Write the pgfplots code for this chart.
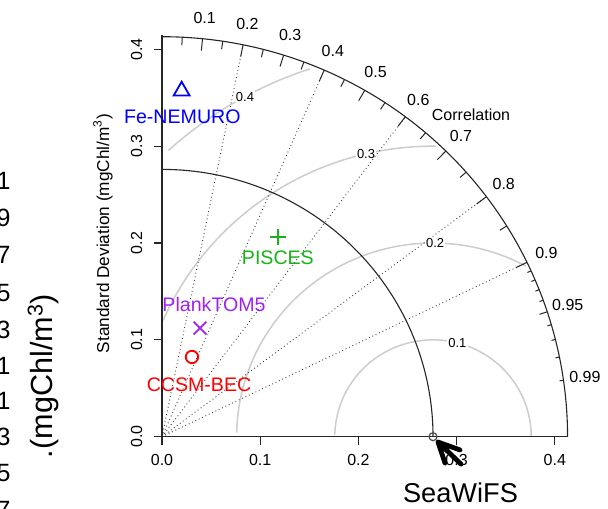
\documentclass[border=0pt]{standalone}
\usepackage{fontspec}
\setmainfont{Liberation Sans}
\usepackage{pgfplots}
\pgfplotsset{compat=1.18}

\definecolor{piscesgreen}{RGB}{25,178,25}
\definecolor{tompurple}{RGB}{160,32,240}
\definecolor{rmsgray}{RGB}{205,205,205}

\newcommand{\fs}[1]{\fontsize{#1}{#1}\selectfont}

\begin{document}
\begin{tikzpicture}
\begin{axis}[
  width=304pt, height=254.5pt, scale only axis,
  xmin=-0.16497, xmax=0.45418,
  ymin=-0.07465, ymax=0.45090,
  axis lines=none, clip=false,
]

%% centred RMS difference contours round the reference (sd 0.276)
\addplot[rmsgray, line width=0.75pt, domain=0:178.76, samples=90] ({0.276+0.1*cos(x)},{0.1*sin(x)});
\addplot[rmsgray, line width=0.75pt, domain=61.88:178.76, samples=70] ({0.276+0.2*cos(x)},{0.2*sin(x)});
\addplot[rmsgray, line width=0.75pt, domain=89.38:156.42, samples=50] ({0.276+0.3*cos(x)},{0.3*sin(x)});
\addplot[rmsgray, line width=0.75pt, domain=108.29:132.35, samples=25] ({0.276+0.4*cos(x)},{0.4*sin(x)});

\node[fill=white, inner sep=0.6pt, font=\fs{6.5}] at (axis cs:0.3008,0.0969) {0.1};
\node[fill=white, inner sep=0.6pt, font=\fs{6.5}] at (axis cs:0.2782,0.2000) {0.2};
\node[fill=white, inner sep=0.6pt, font=\fs{6.5}] at (axis cs:0.2078,0.2921) {0.3};
\node[fill=white, inner sep=0.6pt, font=\fs{6.5}] at (axis cs:0.0845,0.3512) {0.4};

%% correlation rays
\pgfplotsinvokeforeach{0.2,0.4,0.6,0.8,0.9}{
  \draw[black!75, line width=0.45pt, dash pattern=on 0.45pt off 1.4pt]
    (axis cs:0,0) -- (axis cs:{0.413*#1},{0.413*sqrt(1-#1^2)});
}

%% outer arc and reference arc
\addplot[black!85, line width=0.55pt, domain=0:90, samples=91] ({0.413*cos(x)},{0.413*sin(x)});
\addplot[black!85, line width=0.55pt, domain=0:90, samples=91] ({0.276*cos(x)},{0.276*sin(x)});

%% correlation ticks
\pgfplotsinvokeforeach{0.1,0.2,0.3,0.4,0.5,0.6,0.7,0.8,0.9}{
  \draw[black!85, line width=0.5pt] (axis cs:{0.413*#1},{0.413*sqrt(1-#1^2)}) -- (axis cs:{0.4006*#1},{0.4006*sqrt(1-#1^2)});
}
\pgfplotsinvokeforeach{0.05,0.15,0.25,0.35,0.45,0.55,0.65,0.75,0.85,0.95}{
  \draw[black!85, line width=0.5pt] (axis cs:{0.413*#1},{0.413*sqrt(1-#1^2)}) -- (axis cs:{0.4047*#1},{0.4047*sqrt(1-#1^2)});
}
\pgfplotsinvokeforeach{0.91,0.92,0.93,0.94,0.96,0.97,0.98,0.99}{
  \draw[black!85, line width=0.5pt] (axis cs:{0.413*#1},{0.413*sqrt(1-#1^2)}) -- (axis cs:{0.4089*#1},{0.4089*sqrt(1-#1^2)});
}
\pgfplotsinvokeforeach{0.1,0.2,0.3,0.4,0.5,0.6,0.7,0.8,0.9,0.95,0.99}{
  \node[font=\fs{8}] at (axis cs:{0.435*#1},{0.435*sqrt(1-#1^2)}) {#1};
}
\node[font=\fs{8}] at (axis cs:0.3147,0.332) {Correlation};

%% sd axes
\draw[black!85, line width=0.55pt] (axis cs:0,0) -- (axis cs:0.413,0);
\draw[black!85, line width=0.55pt] (axis cs:0,0) -- (axis cs:0,0.4148);
\pgfplotsinvokeforeach{0.0,0.1,0.2,0.3,0.4}{
  \draw[black!85, line width=0.55pt] (axis cs:#1,0) -- (axis cs:#1,-0.0083);
  \node[font=\fs{8}] at (axis cs:#1,-0.0245) {#1};
  \draw[black!85, line width=0.55pt] (axis cs:0,#1) -- (axis cs:-0.0082,#1);
  \node[font=\fs{8}, rotate=90] at (axis cs:-0.0258,#1) {#1};
}
\node[font=\fs{8.6}, rotate=90] at (axis cs:-0.0601,0.2098)
  {Standard Deviation (mgChl/m\textsuperscript{3})};

%% reference (SeaWiFS)
\addplot[only marks, black!70, mark=o, mark size=2pt, line width=0.6pt] coordinates {(0.276,0)};
\draw[line width=2.4pt, line cap=round, line join=round]
  (axis cs:0.3045,-0.0283) -- (axis cs:0.2811,-0.0055)
  (axis cs:0.3035,-0.0137) -- (axis cs:0.2811,-0.0055) -- (axis cs:0.2882,-0.0272);
\node[font=\fs{13.6}] at (axis cs:0.304,-0.0581) {SeaWiFS};

%% models
\addplot[only marks, blue, mark=triangle, mark size=4.6pt, line width=0.9pt] coordinates {(0.020,0.357)};
\node[blue, font=\fs{9.8}] at (axis cs:0.0207,0.3304) {Fe-NEMURO};

\addplot[only marks, piscesgreen, mark=+, mark size=4pt, line width=0.9pt] coordinates {(0.1181,0.2062)};
\node[piscesgreen, font=\fs{9.8}] at (axis cs:0.118,0.1844) {PISCES};

\addplot[only marks, tompurple, mark=x, mark size=4.5pt, line width=0.9pt] coordinates {(0.0387,0.1122)};
\node[tompurple, font=\fs{9.8}] at (axis cs:0.053,0.136) {PlankTOM5};

\addplot[only marks, red, mark=o, mark size=3.1pt, line width=0.9pt] coordinates {(0.0305,0.0823)};
\node[red, font=\fs{9.8}] at (axis cs:0.0377,0.0534) {CCSM-BEC};

%% edge of the neighbouring panel, cut by the frame as in the source
\node[font=\fs{15.3}, rotate=90, anchor=base] at (axis cs:-0.111,0.0627) {.(mgChl/m\textsuperscript{3})};
\node[font=\fs{12.5}, anchor=east, inner sep=0pt] at (axis cs:-0.1538,0.2639) {1};
\node[font=\fs{12.5}, anchor=east, inner sep=0pt] at (axis cs:-0.1538,0.2257) {9};
\node[font=\fs{12.5}, anchor=east, inner sep=0pt] at (axis cs:-0.1538,0.1880) {7};
\node[font=\fs{12.5}, anchor=east, inner sep=0pt] at (axis cs:-0.1538,0.1488) {5};
\node[font=\fs{12.5}, anchor=east, inner sep=0pt] at (axis cs:-0.1538,0.1106) {3};
\node[font=\fs{12.5}, anchor=east, inner sep=0pt] at (axis cs:-0.1538,0.0734) {1};
\node[font=\fs{12.5}, anchor=east, inner sep=0pt] at (axis cs:-0.1538,0.0373) {1};
\node[font=\fs{12.5}, anchor=east, inner sep=0pt] at (axis cs:-0.1538,-0.0003) {3};
\node[font=\fs{12.5}, anchor=east, inner sep=0pt] at (axis cs:-0.1538,-0.0379) {5};
\node[font=\fs{12.5}, anchor=east, inner sep=0pt] at (axis cs:-0.1538,-0.0751) {7};
\end{axis}
\pgfresetboundingbox
\path[use as bounding box] (current axis.south west) rectangle (current axis.north east);
\end{tikzpicture}
\end{document}
